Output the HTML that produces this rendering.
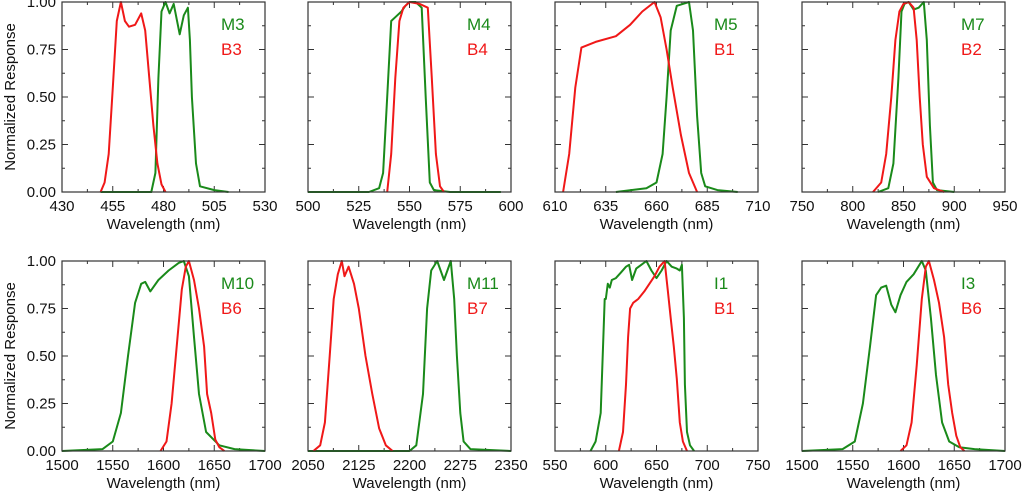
<!DOCTYPE html>
<html><head><meta charset="utf-8">
<style>
body{margin:0;background:#fff;width:1024px;height:494px;overflow:hidden}
svg{font-family:"Liberation Sans",Arial,sans-serif}
</style></head>
<body>
<svg id="chart" width="1024" height="494" viewBox="0 0 1024 494"></svg>
<script>
const NS='http://www.w3.org/2000/svg';
const svg=document.getElementById('chart');
// panel data
const p1Labels=['M3','B3'];
const p1Ticks=[430,455,480,505,530];
const p1GreenX=[449,474,476,477.5,479,481,483,485,488,490,492,493,494,496,498,505,512];
const p1GreenY=[0,0,0.1,0.6,0.95,1.0,0.94,0.99,0.83,0.93,0.97,0.8,0.5,0.15,0.03,0.01,0];
const p1RedX=[449,451,453,455,457,459,461,463,466,469,471,473,475,477,479,481];
const p1RedY=[0,0.05,0.2,0.55,0.9,1.0,0.9,0.87,0.88,0.94,0.85,0.6,0.35,0.15,0.04,0];
const p2Labels=['M4','B4'];
const p2Ticks=[500,525,550,575,600];
const p2GreenX=[500,530,535,537,539,541,543,546,548,550,553,556,558,560,562,570,595];
const p2GreenY=[0,0,0.02,0.1,0.5,0.9,0.92,0.95,0.98,1.0,1.0,0.97,0.5,0.05,0.01,0,0];
const p2RedX=[539,541,543,545,547,550,555,559,561,563,565,567];
const p2RedY=[0,0.2,0.6,0.9,0.97,1.0,0.99,0.97,0.6,0.2,0.03,0];
const p3Labels=['M5','B1'];
const p3Ticks=[610,635,660,685,710];
const p3GreenX=[640,655,660,663,665,667,670,673,676,678,680,682,684,690,700];
const p3GreenY=[0,0.02,0.05,0.2,0.5,0.85,0.98,0.99,1.0,0.85,0.4,0.1,0.03,0.01,0];
const p3RedX=[614,617,620,623,630,640,647,653,659,662,665,668,672,676,680];
const p3RedY=[0,0.2,0.55,0.76,0.79,0.82,0.88,0.95,1.0,0.92,0.75,0.55,0.3,0.1,0];
const p4Labels=['M7','B2'];
const p4Ticks=[750,800,850,900,950];
const p4GreenX=[825,835,840,845,848,851,855,860,865,870,873,876,879,883,900];
const p4GreenY=[0,0.02,0.15,0.6,0.95,0.99,1.0,0.96,0.97,1.0,0.8,0.35,0.05,0.01,0];
const p4RedX=[820,828,833,838,842,846,850,855,860,863,866,869,873,880,890];
const p4RedY=[0,0.05,0.2,0.5,0.8,0.95,0.99,1.0,0.97,0.8,0.5,0.25,0.08,0.02,0];
const p5Labels=['M10','B6'];
const p5Ticks=[1500,1550,1600,1650,1700];
const p5GreenX=[1500,1540,1550,1558,1565,1572,1578,1582,1587,1595,1605,1615,1620,1625,1630,1635,1642,1655,1670,1700];
const p5GreenY=[0,0.01,0.05,0.2,0.5,0.78,0.88,0.89,0.84,0.9,0.95,0.99,1.0,0.92,0.6,0.3,0.1,0.03,0.01,0];
const p5RedX=[1597,1603,1608,1613,1618,1622,1625,1630,1635,1640,1643,1647,1651,1655,1660];
const p5RedY=[0,0.05,0.25,0.55,0.85,0.97,1.0,0.9,0.75,0.55,0.3,0.2,0.06,0.02,0];
const p6Labels=['M11','B7'];
const p6Ticks=[2050,2125,2200,2275,2350];
const p6GreenX=[2050,2200,2210,2220,2226,2232,2241,2251,2261,2266,2270,2275,2280,2290,2350];
const p6GreenY=[0,0,0.03,0.3,0.75,0.95,1.0,0.9,1.0,0.8,0.5,0.2,0.05,0.01,0];
const p6RedX=[2058,2068,2075,2082,2088,2094,2100,2104,2110,2118,2125,2135,2145,2155,2165,2175];
const p6RedY=[0,0.03,0.15,0.5,0.8,0.93,1.0,0.92,0.97,0.88,0.75,0.5,0.3,0.12,0.03,0];
const p7Labels=['I1','B1'];
const p7Ticks=[550,600,650,700,750];
const p7GreenX=[585,590,595,597,599,600,602,604,606,610,615,620,623,626,630,635,640,645,650,655,660,665,670,673,675,677,678,680,683,687];
const p7GreenY=[0,0.05,0.2,0.5,0.8,0.8,0.88,0.86,0.9,0.91,0.94,0.97,0.98,0.9,0.96,0.98,1.0,0.95,0.91,0.95,1.0,0.97,0.96,0.95,0.98,0.7,0.35,0.1,0.03,0];
const p7RedX=[613,617,620,622,624,627,632,638,643,648,653,658,661,664,667,670,673,676,680];
const p7RedY=[0,0.1,0.35,0.6,0.75,0.78,0.8,0.84,0.88,0.92,0.97,1.0,0.85,0.7,0.55,0.38,0.15,0.05,0];
const p8Labels=['I3','B6'];
const p8Ticks=[1500,1550,1600,1650,1700];
const p8GreenX=[1500,1540,1552,1560,1567,1573,1578,1583,1588,1592,1597,1603,1610,1618,1622,1627,1632,1638,1645,1655,1670,1700];
const p8GreenY=[0,0.01,0.05,0.25,0.55,0.82,0.86,0.87,0.77,0.73,0.82,0.89,0.93,1.0,0.95,0.7,0.4,0.15,0.05,0.02,0.01,0];
const p8RedX=[1597,1603,1608,1613,1618,1622,1625,1630,1635,1640,1644,1648,1652,1656,1660];
const p8RedY=[0,0.03,0.15,0.45,0.8,0.97,1.0,0.9,0.78,0.6,0.35,0.2,0.08,0.02,0];
const yTicks=[0,0.25,0.5,0.75,1.0];
const yTickLabels=['0.00','0.25','0.50','0.75','1.00'];

const panels=[
 {l:62,t:2,ticks:p1Ticks,lab:p1Labels,gx:p1GreenX,gy:p1GreenY,rx:p1RedX,ry:p1RedY},
 {l:308,t:2,ticks:p2Ticks,lab:p2Labels,gx:p2GreenX,gy:p2GreenY,rx:p2RedX,ry:p2RedY},
 {l:555,t:2,ticks:p3Ticks,lab:p3Labels,gx:p3GreenX,gy:p3GreenY,rx:p3RedX,ry:p3RedY},
 {l:802,t:2,ticks:p4Ticks,lab:p4Labels,gx:p4GreenX,gy:p4GreenY,rx:p4RedX,ry:p4RedY},
 {l:62,t:261,ticks:p5Ticks,lab:p5Labels,gx:p5GreenX,gy:p5GreenY,rx:p5RedX,ry:p5RedY},
 {l:308,t:261,ticks:p6Ticks,lab:p6Labels,gx:p6GreenX,gy:p6GreenY,rx:p6RedX,ry:p6RedY},
 {l:555,t:261,ticks:p7Ticks,lab:p7Labels,gx:p7GreenX,gy:p7GreenY,rx:p7RedX,ry:p7RedY},
 {l:802,t:261,ticks:p8Ticks,lab:p8Labels,gx:p8GreenX,gy:p8GreenY,rx:p8RedX,ry:p8RedY}
];
const W=203,H=190;
function mk(tag,attrs,parent){const e=document.createElementNS(NS,tag);for(const k in attrs)e.setAttribute(k,attrs[k]);(parent||svg).appendChild(e);return e;}
panels.forEach((p,i)=>{
 const g=mk('g',{});
 
 
 const x0=p.ticks[0],x1=p.ticks[p.ticks.length-1];
 const sx=v=>p.l+(v-x0)/(x1-x0)*W;
 const sy=v=>p.t+H-v*H;
 // ticks
 const step=(x1-x0)/(p.ticks.length-1);
 for(let v=x0;v<=x1+1e-6;v+=step/2){
  const major=Math.abs(((v-x0)/step)-Math.round((v-x0)/step))<1e-6;
  const len=major?6:3, x=sx(v);
  mk('line',{x1:x,x2:x,y1:p.t+H,y2:p.t+H-len,stroke:'#333','stroke-width':1},g);
  mk('line',{x1:x,x2:x,y1:p.t,y2:p.t+len,stroke:'#333','stroke-width':1},g);
 }
 for(let v=0;v<=1.0001;v+=0.125){
  const major=Math.abs(v*4-Math.round(v*4))<1e-6;
  const len=major?6:3,y=sy(v);
  mk('line',{x1:p.l,x2:p.l+len,y1:y,y2:y,stroke:'#333','stroke-width':1},g);
  mk('line',{x1:p.l+W,x2:p.l+W-len,y1:y,y2:y,stroke:'#333','stroke-width':1},g);
 }
 p.ticks.forEach(v=>{
  const t=mk('text',{x:sx(v),y:p.t+H+19,'text-anchor':'middle','font-size':15,fill:'#111'},g);
  
  
  t.textContent=v;
 });
 const xl=mk('text',{x:p.l+W/2,y:p.t+H+37,'text-anchor':'middle','font-size':15,fill:'#111'},g);
 
 
 xl.textContent='Wavelength (nm)';
 if(i%4===0){
  yTicks.forEach((v,k)=>{
   const t=mk('text',{x:p.l-6,y:sy(v)+5,'text-anchor':'end','font-size':15,fill:'#111'},g);
   
   
   t.textContent=yTickLabels[k];
  });
  const yl=mk('text',{x:0,y:0,transform:`translate(15,${p.t+H/2}) rotate(-90)`,'text-anchor':'middle','font-size':15,fill:'#111'},g);
  
  
  yl.textContent='Normalized Response';
 }
 const line=(xs,ys,col,name)=>{
  const d=xs.map((v,k)=>(k?'L':'M')+sx(v).toFixed(1)+','+sy(ys[k]).toFixed(1)).join('');
  const pa=mk('path',{d:d,fill:'none',stroke:col,'stroke-width':2,'stroke-linejoin':'round'},g);
  
  
 };
 line(p.gx,p.gy,'#1a8a1a','green-series');
 line(p.rx,p.ry,'#f01818','red-series');
 mk('rect',{x:p.l,y:p.t,width:W,height:H,fill:'none',stroke:'#333','stroke-width':1.2},g);
 const a=mk('text',{x:p.l+159,y:p.t+28,'font-size':17,fill:'#1a8a1a'},g);
 
 
 a.textContent=p.lab[0];
 const b=mk('text',{x:p.l+159,y:p.t+53,'font-size':17,fill:'#f01818'},g);
 
 
 b.textContent=p.lab[1];
});
</script>
</body></html>
